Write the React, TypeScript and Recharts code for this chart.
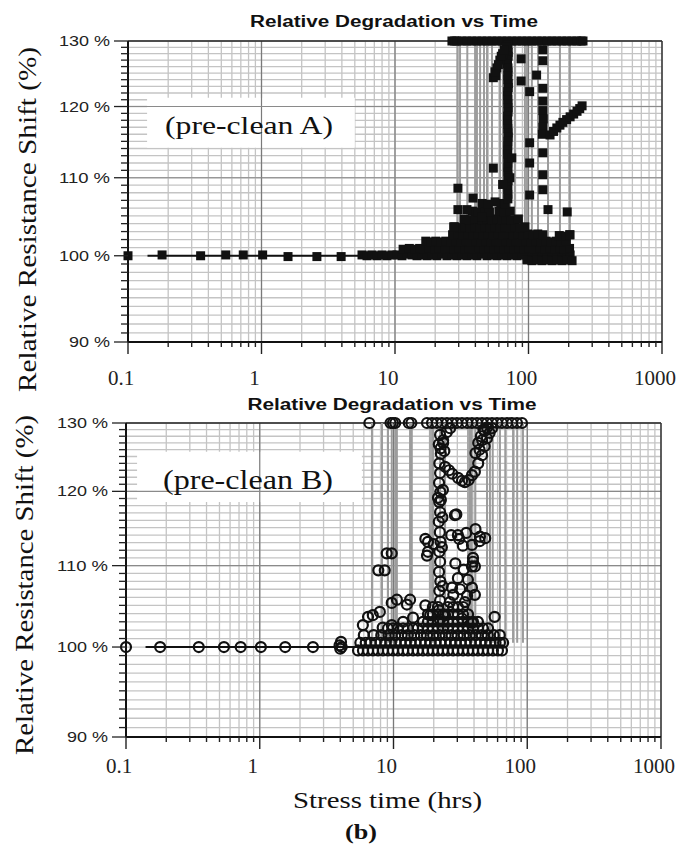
import React from 'react';
import {
  ComposedChart,
  Scatter,
  Line,
  XAxis,
  YAxis,
  CartesianGrid,
  ReferenceLine,
  ReferenceArea,
} from 'recharts';

type Pt = [number, number];

// ---- axes ----
const xTicks = [
  0.1, 0.2, 0.3, 0.4, 0.5, 0.6, 0.7, 0.8, 0.9,
  1, 2, 3, 4, 5, 6, 7, 8, 9,
  10, 20, 30, 40, 50, 60, 70, 80, 90,
  100, 200, 300, 400, 500, 600, 700, 800, 900, 1000,
];
const xLabels = [0.1, 1, 10, 100, 1000];
const yTicks = [
  90, 91, 92, 93, 94, 95, 96, 97, 98, 99, 100, 101, 102, 103, 104, 105, 106, 107, 108, 109, 110,
  111, 112, 113, 114, 115, 116, 117, 118, 119, 120, 121, 122, 123, 124, 125, 126, 127, 128, 129, 130,
];
const yLabels = [90, 100, 110, 120, 130];
const majorX = [1, 10, 100];
const majorY = [110, 120];

// ---- pre-clean A (squares) ----
const aFlat: Pt[] = [
  [0.1, 100], [0.18, 100.1], [0.35, 100], [0.54, 100.1], [0.73, 100.1], [1.02, 100.1],
  [1.58, 99.9], [2.6, 99.9], [3.95, 99.9],
];
const aBaseLine: Pt[] = [[0.14, 100], [12, 100]];
const aBand: Pt[] = [
  [5.66, 100.1], [6.17, 100], [6.72, 100.1], [7.33, 100], [7.99, 100.1], [8.71, 100], [9.5, 100.1],
  [10.35, 100.1], [11.28, 100], [12.3, 100.2], [13.41, 100.1], [14.62, 100], [15.9, 100.1], [17.4, 100],
  [18.9, 100.1], [20.6, 100], [22.5, 100.2], [24.5, 100], [26.7, 100.1], [29.1, 100], [31.8, 100.1],
  [34.6, 100], [37.7, 100.1], [41.1, 100], [44.8, 100.2], [48.9, 100], [53.3, 100.1], [58.1, 100],
  [63.3, 100.1], [69, 100], [75.2, 100.1], [82, 100], [89.4, 100.1], [97.4, 100], [106, 100.1],
  [116, 100], [126, 100.1], [138, 100], [150, 100.1], [163, 100], [178, 100.1], [194, 100], [205, 100.1],
  [97.4, 99.5], [106, 99.4], [116, 99.5], [126, 99.4], [138, 99.5], [150, 99.4], [163, 99.5],
  [178, 99.4], [194, 99.5], [212, 99.4],
  [11.5, 100.8], [12.8, 100.9], [14, 100.8], [15.3, 100.9], [16.6, 100.8], [18.1, 100.9], [19.8, 100.8],
  [21.5, 100.9], [23.5, 100.8], [25.6, 100.9], [27.9, 100.8], [30.4, 100.9], [33.2, 100.8], [36.1, 100.9],
  [39.4, 100.8], [42.9, 100.9], [46.8, 100.8], [51, 100.9], [55.6, 100.8], [60.6, 100.9], [66, 100.8],
  [72, 100.9], [78.5, 100.8], [85.6, 100.9], [93.3, 100.8], [101.7, 100.9], [110.9, 100.8], [121, 100.9],
  [132, 100.8], [144, 100.9], [157, 100.8], [171, 100.9], [186, 100.8], [203, 100.9],
  [17, 101.8], [18.5, 101.7], [20.2, 101.8], [22, 101.7], [24, 101.8], [26.2, 101.7], [28.5, 101.8],
  [31.1, 101.7], [33.9, 101.8], [37, 101.7], [40.3, 101.8], [44, 101.7], [48, 101.8], [52.3, 101.7],
  [57, 101.8], [62.2, 101.7], [67.8, 101.8], [74, 101.7], [80.6, 101.8], [88, 101.7], [96, 101.8],
  [104.6, 101.7], [114, 101.8], [124.4, 101.7], [135.6, 101.8], [148, 101.7], [161, 101.8], [176, 101.7],
  [192, 101.8],
  [27, 102.6], [29.5, 102.7], [32.1, 102.6], [35, 102.7], [38.2, 102.6], [41.6, 102.7], [45.4, 102.6],
  [49.5, 102.7], [54, 102.6], [58.8, 102.7], [64.1, 102.6], [69.9, 102.7], [76.2, 102.6], [83, 102.7],
  [90.5, 102.6], [98.7, 102.7], [107.6, 102.6], [117.3, 102.7], [128, 102.6], [170, 102.5], [190, 102.4],
  [204, 102.6],
  [28, 103.6], [30.6, 103.5], [33.3, 103.6], [36.3, 103.5], [39.6, 103.6], [43.2, 103.5], [47.1, 103.6],
  [51.3, 103.5], [56, 103.6], [61, 103.5], [66.5, 103.6], [72.5, 103.5], [79, 103.6], [86.2, 103.5],
  [94, 103.6],
  [33, 104.6], [36, 104.5], [40, 104.6], [45, 104.5], [49, 104.6], [53, 104.5], [58, 104.6], [63, 104.5],
  [68, 104.6], [74, 104.5], [84, 104.6],
  [38, 105.6], [42, 105.5], [47, 105.6], [51, 105.5], [60, 105.6], [66, 105.5], [73, 105.6],
  [45, 106.6], [50, 106.5], [62, 106.6], [67, 106.5],
];
const aTop: Pt[] = [
  [26.7, 130], [28, 130], [29.1, 130], [31.8, 130], [34.6, 130], [37.7, 130], [41.1, 130], [44.8, 130],
  [48.9, 130], [53.3, 130], [58.1, 130], [63.3, 130], [69, 130], [75.2, 130], [82, 130], [89.4, 130],
  [97.4, 130], [106, 130], [116, 130], [126, 130], [138, 130], [150, 130], [163, 130], [178, 130],
  [194, 130], [211, 130], [230, 130], [248, 130], [256, 130],
];
const aScatter: Pt[] = [
  // column near 70 h
  [70, 129.4], [70, 128.8], [70.4, 128.2], [70.4, 127.6], [69.6, 127], [69.6, 126.4], [70.2, 125.8],
  [70.2, 125.2], [70, 124.6], [70, 124], [70.5, 123.4], [70.5, 122.8], [69.8, 122.2], [69.8, 121.6],
  [70.1, 121], [70.1, 120.4], [70.3, 119.8], [70.3, 119.2], [69.7, 118.6], [69.7, 118], [70, 117.4],
  [70, 116.8], [70.4, 116.2], [70.4, 115.6], [70, 115], [70, 114.4], [69.8, 113.8], [69.8, 113.2],
  [70.2, 112.6], [70.2, 112], [70, 111.4], [70, 110.8], [70.3, 110.2], [70.3, 109.6], [69.9, 109],
  [69.9, 108.4], [70.1, 107.8], [70.1, 107.2],
  // slanted group
  [54.5, 124.3], [57, 124.6], [58, 125.8], [61, 127], [64, 128], [68, 129.1], [56, 125.2], [59.5, 126.3],
  [62.5, 127.6], [66, 128.6],
  // upper squares
  [88, 127.2], [128, 128.6], [128, 126.9], [88, 123.8], [115, 124.7], [102, 122.2], [128, 122.7],
  [128, 120.8], [128, 119.4], [129, 118.2], [128, 117], [127, 116], [102, 114.8], [128, 113.4],
  [102, 112], [128, 110.4], [128, 108.4], [102, 107.7], [140, 105.8], [195, 105.5], [204, 102.6],
  // rising curve
  [145, 115.9], [154, 116.4], [163, 116.9], [172, 117.3], [181, 117.7], [193, 118.1], [205, 118.5],
  [218, 118.9], [231, 119.3], [242, 119.7], [252, 120.1],
  // lower scattered
  [29.6, 108.6], [38.4, 107.3], [29.6, 105.8], [34.6, 105.8], [44.8, 104.9], [54.5, 111.3],
  [56.2, 106.8], [75, 112.7], [72.5, 110], [64, 109.1], [27.5, 103.6],
];
const aFail = [
  29.3, 30.7, 34.8, 39.8, 41.1, 43.4, 46.4, 48.9, 53.3, 61.2, 64.4, 72.5, 79, 94, 97.5, 106, 117.8,
  140, 172, 204,
];

// ---- pre-clean B (open circles) ----
const bFlat: Pt[] = [
  [0.1, 100], [0.18, 100], [0.35, 100], [0.54, 100], [0.72, 100], [1.02, 100], [1.55, 100], [2.5, 100],
  [3.95, 100.2], [4.05, 100.6], [4, 99.8], [4.1, 100],
];
const bBaseLine: Pt[] = [[0.14, 100], [8, 100]];
const bBand: Pt[] = [
  [5.43, 99.6], [5.91, 99.6], [6.45, 99.6], [7.02, 99.6], [7.66, 99.6], [8.34, 99.6], [9.09, 99.6],
  [9.91, 99.6], [10.8, 99.6], [11.8, 99.6], [12.8, 99.6], [14, 99.6], [15.2, 99.6], [16.6, 99.6],
  [18.1, 99.6], [19.7, 99.6], [21.5, 99.6], [23.4, 99.6], [25.5, 99.6], [27.9, 99.6], [30.3, 99.6],
  [33.1, 99.6], [36.1, 99.6], [39.3, 99.6], [42.8, 99.6], [46.7, 99.6], [50.9, 99.6], [55.4, 99.6],
  [60.4, 99.6], [64.7, 99.6],
  [5.65, 100.5], [6.2, 100.5], [6.75, 100.5], [7.35, 100.5], [8, 100.5], [8.7, 100.5], [9.5, 100.5],
  [10.35, 100.5], [11.3, 100.5], [12.3, 100.5], [13.4, 100.5], [14.6, 100.5], [15.9, 100.5],
  [17.3, 100.5], [18.9, 100.5], [20.6, 100.5], [22.4, 100.5], [24.4, 100.5], [26.7, 100.5],
  [29.1, 100.5], [31.7, 100.5], [34.6, 100.5], [37.7, 100.5], [41, 100.5], [44.7, 100.5],
  [48.8, 100.5], [53.1, 100.5], [57.9, 100.5], [62.5, 100.5], [66, 100.5],
  [6, 101.4], [7.1, 101.4], [8.1, 101.4], [9.2, 101.4], [10.3, 101.4], [11.5, 101.4], [12.8, 101.4],
  [14.3, 101.4], [16, 101.4], [17.8, 101.4], [19.8, 101.4], [22, 101.4], [24.5, 101.4], [27.2, 101.4],
  [30.2, 101.4], [33.5, 101.4], [37.2, 101.4], [41.2, 101.4], [45.7, 101.4], [50.7, 101.4],
  [56.2, 101.4], [62.3, 101.4],
  [9.1, 102.2], [9.9, 102.2], [10.8, 102.2], [11.8, 102.2], [12.8, 102.2], [14, 102.2], [15.2, 102.2],
  [16.6, 102.2], [18.1, 102.2], [19.7, 102.2], [21.5, 102.2], [23.4, 102.2], [25.5, 102.2],
  [27.9, 102.2], [30.3, 102.2], [33.1, 102.2], [36.1, 102.2], [39.3, 102.2], [42.8, 102.2],
  [46.7, 102.2], [50.9, 102.2],
  [16.6, 103], [18.1, 103], [19.7, 103], [21.5, 103], [23.4, 103], [25.5, 103], [27.9, 103],
  [30.3, 103], [33.1, 103], [36.1, 103], [39.3, 103], [42.8, 103],
  [18.1, 103.9], [19.7, 103.9], [21.5, 103.9], [23.4, 103.9], [25.5, 103.9], [27.9, 103.9],
  [30.3, 103.9], [33.1, 103.9], [36.1, 103.9],
  [19.7, 104.8], [21.5, 104.8], [25.5, 104.8], [27.9, 104.8], [30.3, 104.8], [33.1, 104.8],
];
const bTop: Pt[] = [
  [6.6, 130], [9.5, 130], [9.9, 130], [10.3, 130], [13, 130], [13.6, 130],
  [17.8, 130], [19.4, 130], [21.1, 130], [23, 130], [25.1, 130], [27.4, 130], [29.8, 130], [32.5, 130],
  [35.5, 130], [38.6, 130], [42.1, 130], [45.9, 130], [50, 130], [54.5, 130], [59.4, 130], [64.7, 130],
  [70.5, 130], [76.9, 130], [83.8, 130], [91.3, 130],
];
const bScatter: Pt[] = [
  // column near 22 h
  [22.3, 128.2], [21.8, 126.8], [22.6, 125.4], [22, 124], [22.3, 122.6], [21.9, 121.2], [22.4, 119.9],
  [22, 118.5], [22.3, 117.1], [21.8, 115.8], [22.2, 114.4], [22.5, 113.1], [22, 111.8], [22.3, 110.5],
  [21.9, 109.2], [22.4, 108], [22, 106.8], [22.3, 105.6], [21.8, 104.4], [22.2, 103.3],
  [23.5, 127], [23.4, 120.2], [22.6, 118.8], [23.2, 116.4], [23, 112.4], [23.3, 107.4],
  // J-shaped group
  [24.3, 123.5], [26, 123], [27.5, 122.5], [30.4, 121.9], [32.5, 121.5], [34.2, 121.3], [36.5, 121.6],
  [38.6, 122.3], [40.6, 122.8], [43, 124], [45.9, 125.2], [48, 126.5], [50, 127.7], [52.3, 128.5],
  [54.5, 129.2], [41, 125.5], [43, 127], [45, 128], [47, 129], [44, 126], [48, 128.8], [46, 127.4],
  [50, 129.3], [22.5, 126.2], [23.5, 127.4], [25, 128.6], [26.5, 129.2], [24, 125.8],
  // middle group
  [18.1, 113.1], [18.1, 111.8], [21.5, 119.1], [28.8, 116.7], [30.3, 114], [44.3, 113.8], [48.5, 113.6],
  [38.6, 112.7], [39.3, 110.5], [40.6, 109.9], [30.3, 108.4], [27.4, 107.2], [38.6, 107.2],
  [34.2, 105.4], [40.6, 106.3], [26.4, 105.4], [18.8, 103.8], [24.3, 103.8], [32.5, 103.4],
  [38.6, 102.9], [17.3, 105], [57, 103.6], [27, 114], [31, 113.5], [35, 114.3], [41, 114.8],
  [44, 113.2], [33, 112.6], [39.3, 111], [38.6, 109.9], [17.3, 113.5], [17.8, 111.3], [20, 112.8],
  [29.5, 116.8], [28, 106.3], [31.5, 107], [36, 108.2], [33.5, 109.5], [29, 110.3], [35.5, 106.2],
  // left group
  [5.9, 102.6], [6.45, 103.6], [7, 103.8], [7.9, 104.2], [9.7, 105.3], [10.6, 105.7], [13.3, 105.7],
  [12.6, 105.1], [7.7, 109.4], [8.6, 109.4], [8.9, 111.6], [9.7, 111.6], [9.7, 102.6], [8.3, 102.3],
  [11.8, 103], [14, 103.5],
];
const bFail = [
  6.9, 8.2, 9.1, 9.7, 10.3, 10.6, 13.3, 13.7, 19.7, 22.3, 24.3, 37.3, 38.5, 40.9, 50, 52.6, 55.2,
  62.5, 68.5, 78.3, 84.1, 92.9,
];
const bFailThick = [19.2, 37];

const toXY = (pts: Pt[]) => pts.map(([x, y]) => ({ x, y }));

const SERIF = '"Liberation Serif", "Times New Roman", serif';
const SANS = '"Liberation Sans", Arial, sans-serif';

const Square = (p: any) => (
  <rect x={p.cx - 4.5} y={p.cy - 4.5} width={9} height={9} fill="#111" />
);
const Ring = (p: any) => (
  <circle cx={p.cx} cy={p.cy} r={5} fill="none" stroke="#111" strokeWidth={2.2} />
);

function XTick(props: any) {
  const { x, y, payload, labelDy } = props;
  const v = payload.value;
  const major = xLabels.includes(v);
  return (
    <g>
      <line x1={x} x2={x} y1={y} y2={y + (major ? 12 : 5)} stroke="#222" strokeWidth={1.4} />
      {major && (
        <text x={x - 7} y={y + labelDy} textAnchor="middle" fontFamily={SERIF} fontSize={21} fill="#222">
          {String(v)}
        </text>
      )}
    </g>
  );
}

function YTick(props: any) {
  const { x, y, payload } = props;
  const v = payload.value;
  const major = yLabels.includes(v);
  const label = `${v} %`;
  return (
    <g>
      <line x1={x - (major ? 14 : 7)} x2={x} y1={y} y2={y} stroke="#222" strokeWidth={1.3} />
      {major && (
        <text
          x={x - 18}
          y={y + 5}
          textAnchor="end"
          fontFamily={SANS}
          fontSize={14}
          fill="#222"
          textLength={label.length === 5 ? 51 : 41}
          lengthAdjust="spacingAndGlyphs"
        >
          {label}
        </text>
      )}
    </g>
  );
}

interface PanelProps {
  top: number;
  height: number;
  margin: { top: number; right: number; bottom: number; left: number };
  points: Pt[];
  baseLine: Pt[];
  fails: number[];
  thickFails?: number[];
  failFrom: number;
  marker: 'square' | 'ring';
  box: [number, number, number, number];
  labelDy: number;
}

function Panel({ top, height, margin, points, baseLine, fails, thickFails = [], failFrom, marker, box, labelDy }: PanelProps) {
  return (
    <div style={{ position: 'absolute', left: 0, top }}>
      <ComposedChart width={687} height={height} margin={margin}>
        <CartesianGrid stroke="#c4c4c4" strokeWidth={1.3} />
        <XAxis
          type="number"
          dataKey="x"
          scale="log"
          domain={[0.1, 1000]}
          ticks={xTicks}
          interval={0}
          height={50}
          tickSize={0}
          tickMargin={0}
          tickLine={false}
          axisLine={{ stroke: '#111', strokeWidth: 2 }}
          tick={(p: any) => <XTick {...p} labelDy={labelDy} />}
        />
        <YAxis
          type="number"
          dataKey="y"
          scale="log"
          domain={[90, 130]}
          ticks={yTicks}
          interval={0}
          width={100}
          tickSize={0}
          tickMargin={0}
          tickLine={false}
          axisLine={{ stroke: '#111', strokeWidth: 2 }}
          tick={(p: any) => <YTick {...p} />}
        />
        {majorX.map((v) => (
          <ReferenceLine key={`mx${v}`} x={v} stroke="#7a7a7a" strokeWidth={1.2} />
        ))}
        {majorY.map((v) => (
          <ReferenceLine key={`my${v}`} y={v} stroke="#8a8a8a" strokeWidth={1.2} />
        ))}
        <ReferenceLine y={130} stroke="#222" strokeWidth={1.5} />
        <ReferenceLine x={1000} stroke="#333" strokeWidth={1.5} />
        <ReferenceArea x1={box[0]} x2={box[1]} y1={box[2]} y2={box[3]} fill="#fff" fillOpacity={1} stroke="none" />
        {thickFails.map((t) => (
          <ReferenceLine
            key={`tf${t}`}
            segment={[{ x: t, y: 105 }, { x: t, y: 130 }]}
            stroke="#a8a8a8"
            strokeWidth={5}
          />
        ))}
        {fails.map((t) => (
          <ReferenceLine
            key={`f${t}`}
            segment={[{ x: t, y: failFrom }, { x: t, y: 130 }]}
            stroke="#9c9c9c"
            strokeWidth={2}
          />
        ))}
        <Line
          data={toXY(baseLine)}
          dataKey="y"
          stroke="#111"
          strokeWidth={2}
          dot={false}
          isAnimationActive={false}
        />
        <Scatter
          data={toXY(points)}
          shape={marker === 'square' ? Square : Ring}
          isAnimationActive={false}
        />
      </ComposedChart>
    </div>
  );
}

export default function App() {
  return (
    <div style={{ position: 'absolute', left: 0, top: 0, width: 687, height: 846, background: '#fff' }}>
      <Panel
        top={0}
        height={400}
        margin={{ top: 41, right: 25, bottom: 8, left: 28 }}
        points={[...aFlat, ...aBand, ...aTop, ...aScatter]}
        baseLine={aBaseLine}
        fails={aFail}
        failFrom={100.3}
        marker="square"
        box={[0.139, 5.0, 114.1, 121.3]}
        labelDy={43}
      />
      <Panel
        top={390}
        height={456}
        margin={{ top: 33, right: 26, bottom: 59, left: 26 }}
        points={[...bFlat, ...bBand, ...bTop, ...bScatter]}
        baseLine={bBaseLine}
        fails={bFail}
        thickFails={bFailThick}
        failFrom={100.5}
        marker="ring"
        box={[0.121, 5.8, 118.5, 125.7]}
        labelDy={36}
      />
      <svg
        width={687}
        height={846}
        style={{ position: 'absolute', left: 0, top: 0, pointerEvents: 'none' }}
      >
        <text x={394} y={27} textAnchor="middle" fontFamily={SANS} fontWeight="bold" fontSize={16}
          textLength={288} lengthAdjust="spacingAndGlyphs" fill="#111">
          Relative Degradation vs Time
        </text>
        <text x={392} y={410} textAnchor="middle" fontFamily={SANS} fontWeight="bold" fontSize={16}
          textLength={289} lengthAdjust="spacingAndGlyphs" fill="#111">
          Relative Degradation vs Time
        </text>
        <text transform="translate(36,219.5) rotate(-90)" textAnchor="middle" fontFamily={SERIF}
          fontSize={26} textLength={345} lengthAdjust="spacingAndGlyphs" fill="#111">
          Relative Resistance Shift (%)
        </text>
        <text transform="translate(33,585) rotate(-90)" textAnchor="middle" fontFamily={SERIF}
          fontSize={26} textLength={340} lengthAdjust="spacingAndGlyphs" fill="#111">
          Relative Resistance Shift (%)
        </text>
        <text x={249} y={133.5} textAnchor="middle" fontFamily={SERIF} fontSize={26}
          textLength={168} lengthAdjust="spacingAndGlyphs" fill="#111">
          (pre-clean A)
        </text>
        <text x={248} y={489} textAnchor="middle" fontFamily={SERIF} fontSize={28}
          textLength={170} lengthAdjust="spacingAndGlyphs" fill="#111">
          (pre-clean B)
        </text>
        <text x={387.5} y={808} textAnchor="middle" fontFamily={SERIF} fontSize={24}
          textLength={189} lengthAdjust="spacingAndGlyphs" fill="#111">
          Stress time (hrs)
        </text>
        <text x={361} y={839} textAnchor="middle" fontFamily={SERIF} fontWeight="bold" fontSize={20}
          textLength={32} lengthAdjust="spacingAndGlyphs" fill="#111">
          (b)
        </text>
      </svg>
    </div>
  );
}
